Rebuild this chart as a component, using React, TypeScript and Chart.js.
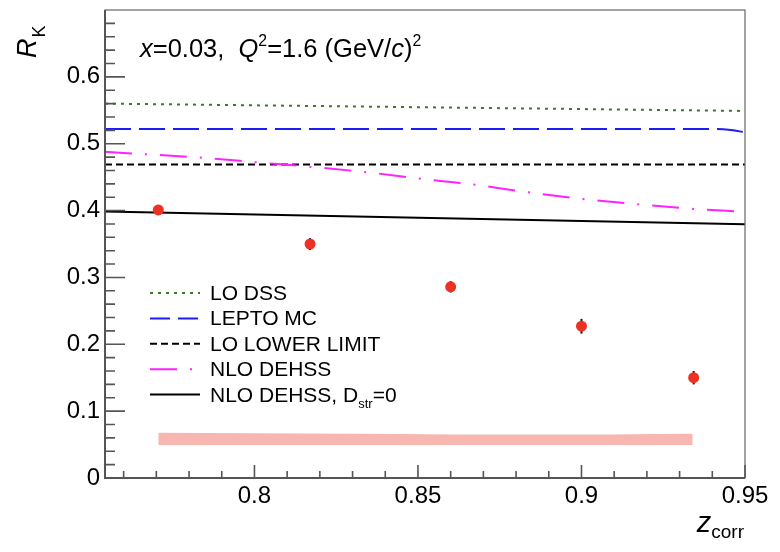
import { useEffect, useRef } from 'react';
import { Chart, registerables } from 'chart.js';

Chart.register(...registerables);

// axis ranges and ticks
const X_MIN = 0.7543;
const X_MAX = 0.95;
const Y_MIN = 0;
const Y_MAX = 0.7;
const xMajorTicks = [0.8, 0.85, 0.9, 0.95];
const xMinorTicks = [0.76, 0.77, 0.78, 0.79, 0.81, 0.82, 0.83, 0.84, 0.86, 0.87, 0.88, 0.89, 0.91, 0.92, 0.93, 0.94];
const yMajorTicks = [0, 0.1, 0.2, 0.3, 0.4, 0.5, 0.6];
const yMinorTicks = [0.02, 0.04, 0.06, 0.08, 0.12, 0.14, 0.16, 0.18, 0.22, 0.24, 0.26, 0.28, 0.32, 0.34, 0.36, 0.38, 0.42, 0.44, 0.46, 0.48, 0.52, 0.54, 0.56, 0.58, 0.62, 0.64, 0.66, 0.68];

// measured R_K points
const dataZ = [0.7706, 0.817, 0.86, 0.9, 0.9343];
const dataR = [0.401, 0.35, 0.286, 0.227, 0.15];
const dataErr = [0.0075, 0.009, 0.0085, 0.011, 0.01];

// systematic band
const bandZ = [0.7706, 0.8, 0.83, 0.86, 0.89, 0.91, 0.934];
const bandHigh = [0.0675, 0.067, 0.066, 0.0652, 0.065, 0.0652, 0.066];
const bandLow = [0.0495, 0.0495, 0.0494, 0.0493, 0.0493, 0.0494, 0.0495];

// curves
const loDssZ = [0.7543, 0.95];
const loDss = [0.56, 0.549];
const leptoZ = [0.7543, 0.94, 0.945, 0.95];
const lepto = [0.522, 0.522, 0.521, 0.517];
const loLowZ = [0.7543, 0.95];
const loLow = [0.469, 0.469];
const nloZ = [0.7543, 0.7675, 0.7844, 0.8012, 0.8181, 0.835, 0.8518, 0.8655, 0.8825, 0.899, 0.916, 0.933, 0.95];
const nlo = [0.488, 0.484, 0.479, 0.472, 0.465, 0.457, 0.447, 0.44, 0.428, 0.418, 0.41, 0.403, 0.398];
const nloStrZ = [0.7543, 0.95];
const nloStr = [0.3985, 0.3795];

const FONT = '"Liberation Sans", Arial, Helvetica, sans-serif';
const GREEN = '#3b7a22';
const BLUE = '#1c1cf5';
const MAGENTA = '#ff22ff';
const RED = '#ec3323';
const BAND = '#f7b7b0';

const pts = (xs: number[], ys: number[]) => xs.map((x, i) => ({ x, y: ys[i] }));

type Part = { t: string; it?: boolean; sup?: boolean; sub?: boolean };

// draws text made of plain, italic, super- and subscript pieces
function drawRich(ctx: CanvasRenderingContext2D, x: number, y: number, size: number, parts: Part[]) {
  let cx = x;
  ctx.textBaseline = 'alphabetic';
  ctx.textAlign = 'left';
  for (const p of parts) {
    const s = p.sup || p.sub ? size * 0.62 : size;
    const dy = p.sup ? -size * 0.42 : p.sub ? size * 0.3 : 0;
    ctx.font = `${p.it ? 'italic ' : ''}${s}px ${FONT}`;
    ctx.fillText(p.t, cx, y + dy);
    cx += ctx.measureText(p.t).width;
  }
  return cx - x;
}

const legendRows: { label: Part[]; color: string; dash: number[] }[] = [
  { label: [{ t: 'LO DSS' }], color: GREEN, dash: [3, 5] },
  { label: [{ t: 'LEPTO MC' }], color: BLUE, dash: [20, 8] },
  { label: [{ t: 'LO LOWER LIMIT' }], color: '#000', dash: [7, 4] },
  { label: [{ t: 'NLO DEHSS' }], color: MAGENTA, dash: [27, 13, 2, 13] },
  { label: [{ t: 'NLO DEHSS, D' }, { t: 'str', sub: true }, { t: '=0' }], color: '#000', dash: [] },
];

const decorations = {
  id: 'decorations',
  beforeDatasetDraw(chart: any, args: any) {
    if (args.index !== 0) return;
    const { ctx } = chart;
    const xs = chart.scales.x;
    const ys = chart.scales.y;
    ctx.save();
    ctx.strokeStyle = '#111';
    ctx.lineWidth = 2;
    dataZ.forEach((z, i) => {
      const px = xs.getPixelForValue(z);
      ctx.beginPath();
      ctx.moveTo(px, ys.getPixelForValue(dataR[i] - dataErr[i]));
      ctx.lineTo(px, ys.getPixelForValue(dataR[i] + dataErr[i]));
      ctx.stroke();
    });
    ctx.restore();
  },
  afterDraw(chart: any) {
    const { ctx, chartArea: a } = chart;
    const xs = chart.scales.x;
    const ys = chart.scales.y;
    ctx.save();
    // frame
    ctx.strokeStyle = '#666';
    ctx.lineWidth = 1.2;
    ctx.strokeRect(a.left, a.top, a.right - a.left, a.bottom - a.top);
    ctx.strokeStyle = '#555';
    ctx.lineWidth = 2;
    ctx.beginPath();
    ctx.moveTo(a.left, a.top);
    ctx.lineTo(a.left, a.bottom);
    ctx.lineTo(a.right, a.bottom);
    ctx.stroke();
    // ticks drawn inwards
    ctx.lineWidth = 1.6;
    ctx.beginPath();
    yMajorTicks.forEach((v) => {
      const py = ys.getPixelForValue(v);
      ctx.moveTo(a.left, py);
      ctx.lineTo(a.left + 20, py);
    });
    yMinorTicks.forEach((v) => {
      const py = ys.getPixelForValue(v);
      ctx.moveTo(a.left, py);
      ctx.lineTo(a.left + 10, py);
    });
    xMajorTicks.forEach((v) => {
      const px = xs.getPixelForValue(v);
      ctx.moveTo(px, a.bottom);
      ctx.lineTo(px, a.bottom - 13);
    });
    xMinorTicks.forEach((v) => {
      const px = xs.getPixelForValue(v);
      ctx.moveTo(px, a.bottom);
      ctx.lineTo(px, a.bottom - 7);
    });
    ctx.stroke();

    ctx.fillStyle = '#000';
    // header
    drawRich(ctx, 140, 57, 25.5, [
      { t: 'x', it: true },
      { t: '=0.03,  ' },
      { t: 'Q', it: true },
      { t: '2', sup: true },
      { t: '=1.6 (GeV/' },
      { t: 'c', it: true },
      { t: ')' },
      { t: '2', sup: true },
    ]);
    // x axis title
    ctx.font = `19px ${FONT}`;
    const wSub = ctx.measureText('corr').width;
    ctx.font = `italic 29px ${FONT}`;
    const wZ = ctx.measureText('z').width;
    drawRich(ctx, a.right - wSub - wZ - 1, 532, 29, [{ t: 'z', it: true }]);
    ctx.font = `19px ${FONT}`;
    ctx.fillText('corr', a.right - wSub - 1, 538);
    // y axis title, rotated
    ctx.save();
    ctx.translate(36, 58);
    ctx.rotate(-Math.PI / 2);
    ctx.font = `italic 27px ${FONT}`;
    ctx.fillText('R', 0, 0);
    const wR = ctx.measureText('R').width;
    ctx.font = `18px ${FONT}`;
    ctx.fillText('K', wR + 1, 9);
    ctx.restore();

    // legend
    legendRows.forEach((row, i) => {
      const cy = 293 + i * 25.4;
      ctx.save();
      ctx.strokeStyle = row.color;
      ctx.lineWidth = 2;
      ctx.setLineDash(row.dash);
      ctx.beginPath();
      ctx.moveTo(150, cy);
      ctx.lineTo(200, cy);
      ctx.stroke();
      ctx.restore();
      ctx.fillStyle = '#000';
      drawRich(ctx, 210, cy + 7, 21, row.label);
    });
    ctx.restore();
  },
};

const line = (label: string, xs: number[], ys: number[], color: string, dash: number[], extra: any = {}) => ({
  label,
  data: pts(xs, ys),
  showLine: true,
  borderColor: color,
  borderWidth: 2,
  borderDash: dash,
  pointRadius: 0,
  fill: false,
  ...extra,
});

export default function App() {
  const canvasRef = useRef<HTMLCanvasElement>(null);

  useEffect(() => {
    if (!canvasRef.current) return;
    const chart = new Chart(canvasRef.current, {
      type: 'scatter',
      data: {
        datasets: [
          {
            label: 'data',
            data: pts(dataZ, dataR),
            showLine: false,
            pointRadius: 5.5,
            pointBackgroundColor: RED,
            pointBorderWidth: 0,
          },
          line('NLO DEHSS, Dstr=0', nloStrZ, nloStr, '#000', []),
          line('NLO DEHSS', nloZ, nlo, MAGENTA, [27, 13, 2, 13], { cubicInterpolationMode: 'monotone' }),
          line('LO LOWER LIMIT', loLowZ, loLow, '#000', [7, 4]),
          line('LEPTO MC', leptoZ, lepto, BLUE, [26, 8], { cubicInterpolationMode: 'monotone' }),
          line('LO DSS', loDssZ, loDss, GREEN, [3, 5]),
          {
            label: 'band high',
            data: pts(bandZ, bandHigh),
            showLine: true,
            borderWidth: 0,
            borderColor: BAND,
            backgroundColor: BAND,
            pointRadius: 0,
            fill: '+1',
            cubicInterpolationMode: 'monotone',
          },
          {
            label: 'band low',
            data: pts(bandZ, bandLow),
            showLine: true,
            borderWidth: 0,
            borderColor: BAND,
            pointRadius: 0,
            fill: false,
          },
        ],
      },
      options: {
        responsive: false,
        animation: false,
        layout: { padding: { top: 10, right: 35, left: 0, bottom: 0 } },
        plugins: { legend: { display: false }, tooltip: { enabled: false } },
        scales: {
          x: {
            type: 'linear',
            min: X_MIN,
            max: X_MAX,
            grid: { display: false, drawTicks: false },
            border: { display: false },
            afterBuildTicks: (s: any) => {
              s.ticks = xMajorTicks.map((v) => ({ value: v }));
            },
            afterFit: (s: any) => {
              s.height = 74;
            },
            ticks: {
              padding: 4,
              color: '#000',
              font: { family: FONT, size: 24 },
              maxRotation: 0,
              autoSkip: false,
              callback: (v: any) => String(v),
            },
          },
          y: {
            type: 'linear',
            min: Y_MIN,
            max: Y_MAX,
            grid: { display: false, drawTicks: false },
            border: { display: false },
            afterBuildTicks: (s: any) => {
              s.ticks = yMajorTicks.map((v) => ({ value: v }));
            },
            afterFit: (s: any) => {
              s.width = 105;
            },
            ticks: {
              padding: 5,
              color: '#000',
              // small line height keeps the top label from padding the plot area
              font: { family: FONT, size: 24, lineHeight: 0.2 },
              callback: (v: any) => String(v),
            },
          },
        },
      },
      plugins: [decorations],
    });
    return () => chart.destroy();
  }, []);

  return (
    <div style={{ position: 'absolute', left: 0, top: 0, width: 780, height: 552, background: '#fff' }}>
      <canvas ref={canvasRef} width={780} height={552} />
    </div>
  );
}
